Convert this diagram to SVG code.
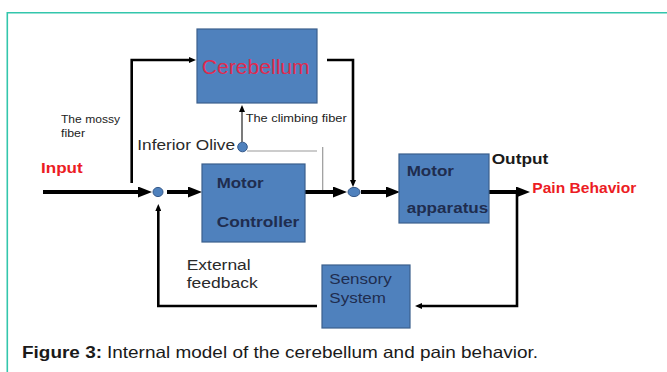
<svg xmlns="http://www.w3.org/2000/svg" width="667" height="372" viewBox="0 0 667 372">
<style>
.box{fill:#4f81bd;stroke:#3b5f8c;stroke-width:1.2}
.jn{fill:#4f81bd;stroke:#35598a;stroke-width:1}
.thick{fill:none;stroke:#000;stroke-width:4}
.mid{fill:none;stroke:#000;stroke-width:2.6}
.thin{fill:none;stroke:#222;stroke-width:1.2}
.gray{fill:none;stroke:#9a9a9a;stroke-width:1.2}
text{font-family:"Liberation Sans",Arial,sans-serif}
.bt{font-weight:bold;font-size:15px;fill:#1f2d4f}
.rt{font-size:14px;fill:#1f2d4f}
.lab{font-size:14px;fill:#2a2a2a}
.sm{font-size:10.5px;fill:#222}
.red{font-weight:bold;font-size:15px;fill:#ec1c24}
</style>
<defs>
<marker id="big" viewBox="0 0 14 11" refX="2" refY="5.5" markerWidth="14" markerHeight="11" markerUnits="userSpaceOnUse" orient="auto">
<path d="M0,0 L14,5.5 L0,11 z" fill="#000"/>
</marker>
<marker id="small" viewBox="0 0 7 6" refX="1" refY="3" markerWidth="7" markerHeight="6" markerUnits="userSpaceOnUse" orient="auto">
<path d="M0,0 L7,3 L0,6 z" fill="#000"/>
</marker>
</defs>
<rect width="667" height="372" fill="#fff"/>
<g id="frame" fill="none" stroke="#33c6ac" stroke-width="1.6">
<path d="M7.3,372 V12.7 H667"/>
</g>
<g id="connectors">
<path class="thick" d="M43,192 H140" marker-end="url(#big)"/>
<path class="thick" d="M167,192 H190" marker-end="url(#big)"/>
<path class="thick" d="M305,192 H335" marker-end="url(#big)"/>
<path class="thick" d="M361,192 H388" marker-end="url(#big)"/>
<path class="thick" d="M489,192 H518" marker-end="url(#big)"/>
<path class="mid" d="M131.7,183 V60 H190" marker-end="url(#small)"/>
<path class="mid" d="M327,60 H353 V181" marker-end="url(#small)"/>
<path class="thin" d="M242,142 V111" marker-end="url(#small)"/>
<path class="gray" d="M247,151 H317"/>
<path class="gray" d="M322.7,147 V190"/>
<path class="mid" d="M517,192 V306 H421" marker-end="url(#small)"/>
<path class="mid" d="M317,306 H158.3 V210" marker-end="url(#small)"/>
</g>
<g id="cerebellum">
<rect class="box" x="197" y="29" width="120" height="74"/>
<text x="201.7" y="74" font-size="20" fill="#e02a4e" textLength="108" lengthAdjust="spacingAndGlyphs">Cerebellum</text>
</g>
<g id="motor-controller">
<rect class="box" x="202" y="164" width="103" height="78"/>
<text class="bt" x="216.7" y="188.3" textLength="47" lengthAdjust="spacingAndGlyphs">Motor</text>
<text class="bt" x="216.7" y="226.7" textLength="82.6" lengthAdjust="spacingAndGlyphs">Controller</text>
</g>
<g id="motor-apparatus">
<rect class="box" x="399" y="154" width="90" height="69"/>
<text class="bt" x="406.7" y="175.7" textLength="47.3" lengthAdjust="spacingAndGlyphs">Motor</text>
<text class="bt" x="406.7" y="213.3" textLength="81.6" lengthAdjust="spacingAndGlyphs">apparatus</text>
</g>
<g id="sensory-system">
<rect class="box" x="322" y="265" width="88" height="63"/>
<text class="rt" x="329.3" y="284.3" textLength="62.4" lengthAdjust="spacingAndGlyphs">Sensory</text>
<text class="rt" x="329.3" y="302.7" textLength="56.7" lengthAdjust="spacingAndGlyphs">System</text>
</g>
<g id="junction-1"><ellipse class="jn" cx="158" cy="192" rx="5" ry="4.6"/></g>
<g id="junction-2"><ellipse class="jn" cx="354" cy="192" rx="6" ry="4.6"/></g>
<g id="inferior-olive">
<ellipse class="jn" cx="242.5" cy="147" rx="4.8" ry="4.8"/>
<text class="lab" x="137.3" y="150" textLength="97.7" lengthAdjust="spacingAndGlyphs">Inferior Olive</text>
</g>
<g id="labels">
<text class="red" x="41" y="173.3" textLength="41.7" lengthAdjust="spacingAndGlyphs">Input</text>
<text class="red" x="532.3" y="193.3" textLength="104" lengthAdjust="spacingAndGlyphs">Pain Behavior</text>
<text x="491.7" y="164.3" font-size="15" font-weight="bold" fill="#1a1a1a" textLength="56.6" lengthAdjust="spacingAndGlyphs">Output</text>
<text class="sm" x="61" y="123.3" textLength="59" lengthAdjust="spacingAndGlyphs">The mossy</text>
<text class="sm" x="61" y="136.7" textLength="24" lengthAdjust="spacingAndGlyphs">fiber</text>
<text class="sm" x="245.7" y="121.7" textLength="101" lengthAdjust="spacingAndGlyphs">The climbing fiber</text>
<text class="lab" x="186.7" y="270" textLength="64" lengthAdjust="spacingAndGlyphs">External</text>
<text class="lab" x="186.7" y="288.3" textLength="71" lengthAdjust="spacingAndGlyphs">feedback</text>
</g>
<g id="caption">
<text x="22" y="358" font-size="16.5" font-weight="bold" fill="#1a1a1a" textLength="80" lengthAdjust="spacingAndGlyphs">Figure 3:</text>
<text x="107" y="358" font-size="16.5" fill="#1a1a1a" textLength="431" lengthAdjust="spacingAndGlyphs">Internal model of the cerebellum and pain behavior.</text>
</g>
</svg>
